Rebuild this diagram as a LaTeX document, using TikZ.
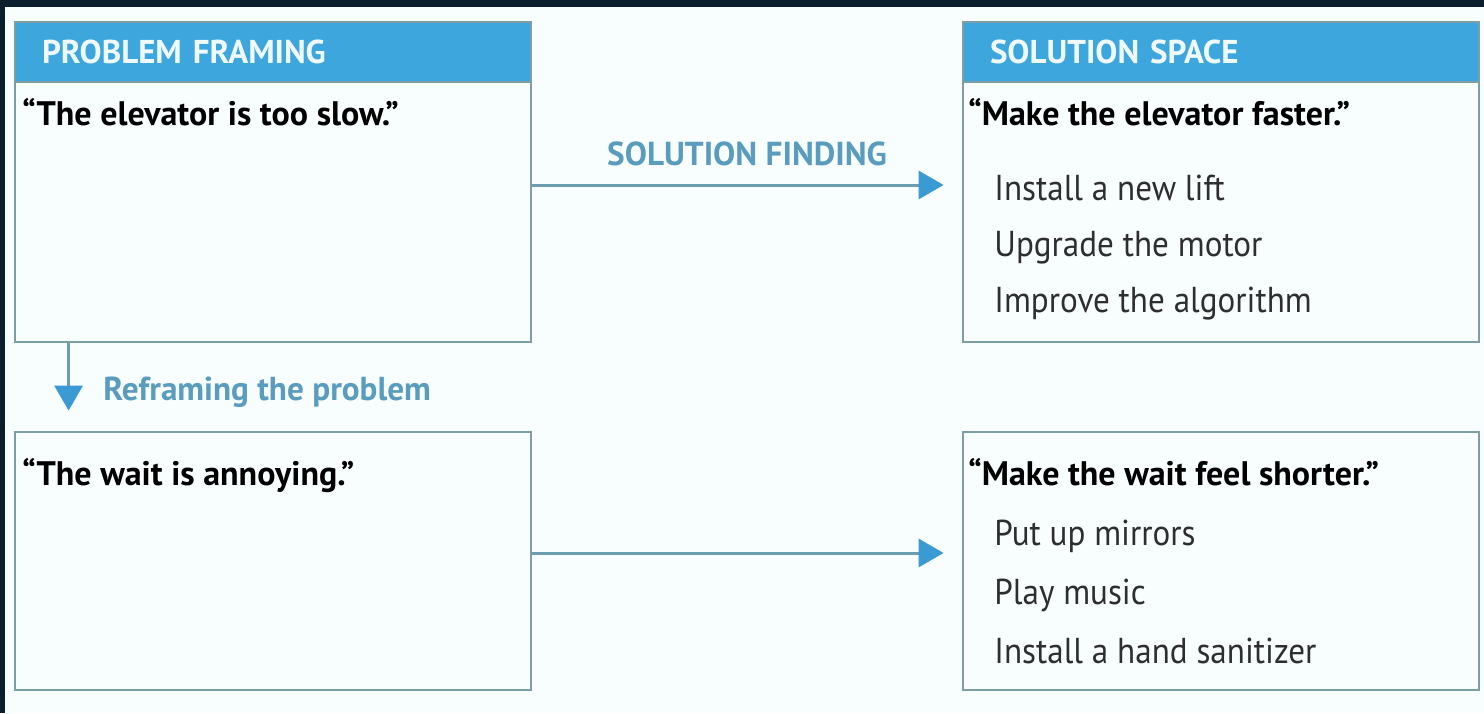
\documentclass[tikz,border=0pt]{standalone}
\usepackage{fontspec}
\setmainfont{PT Sans}
\newfontfamily\itemfont{PT Sans}[FakeStretch=0.92]
\usetikzlibrary{arrows.meta}

\definecolor{framedark}{HTML}{0B1E2E}
\definecolor{paper}{HTML}{F8FDFE}
\definecolor{boxgray}{HTML}{7E9EA6}
\definecolor{headblue}{HTML}{3DA6DD}
\definecolor{headtext}{HTML}{EEFAFF}
\definecolor{linegray}{HTML}{6D9DB0}
\definecolor{tipblue}{HTML}{3A9AD4}
\definecolor{labelblue}{HTML}{5A9CBD}
\definecolor{itemgray}{HTML}{2E2E2E}

\begin{document}
\begin{tikzpicture}[x=0.5pt, y=-0.5pt]
		\fill[framedark] (0,0) rectangle (1484,713);
		\fill[paper] (5,7) rectangle (1484,713);
		\useasboundingbox (0,0) rectangle (1484,713);

		\begin{scope}[every node/.style={draw=boxgray, line width=1.4pt, minimum width=258pt, inner sep=0pt}]
			\node (PF)[minimum height=160pt] at (273,182) {};
			\node (SS)[minimum height=160pt] at (1221,182) {};
			\node (WA)[minimum height=129pt] at (273,561) {};
			\node (WS)[minimum height=129pt] at (1221,561) {};
		\end{scope}
		\begin{scope}[every node/.style={draw=boxgray, fill=headblue, line width=1.4pt, anchor=north west,
				minimum width=258pt, minimum height=30pt, text width=231pt, inner xsep=13.5pt, inner ysep=0pt,
				align=left, text=headtext, font=\bfseries\fontsize{16.5}{19}\selectfont}]
			\node (PFhead) at (PF.north west) {PROBLEM FRAMING};
			\node (SShead) at (SS.north west) {SOLUTION SPACE};
		\end{scope}
		\begin{scope}[every node/.style={anchor=base west, inner sep=0pt, font=\bfseries\fontsize{17}{20}\selectfont}]
			\node (PFq) at (22,125) {“The elevator is too slow.”};
			\node (SSq) at (968,125) {“Make the elevator faster.”};
			\node (WAq) at (22,485) {“The wait is annoying.”};
			\node (WSq) at (968,485) {“Make the wait feel shorter.”};
		\end{scope}
		\begin{scope}[every node/.style={anchor=base west, inner sep=0pt, text=itemgray, font=\itemfont\fontsize{18}{21}\selectfont}]
			\node (S1) at (994,200) {Install a new lift};
			\node (S2) at (994,256) {Upgrade the motor};
			\node (S3) at (994,312) {Improve the algorithm};
			\node (W1) at (994,545) {Put up mirrors};
			\node (W2) at (994,604) {Play music};
			\node (W3) at (994,663) {Install a hand sanitizer};
		\end{scope}
		\begin{scope}[every node/.style={inner sep=0pt, text=labelblue, font=\bfseries\fontsize{16.6}{19}\selectfont}]
			\node (find) at (747,154) {SOLUTION FINDING};
			\node (reframe)[anchor=base west] at (103,400) {Reframing the problem};
		\end{scope}
		\begin{scope}[every edge/.style={draw=linegray, line width=1.5pt, -{Triangle[length=12.5pt, width=14pt, color=tipblue]}}]
			\path ([yshift=-1.5pt]PF.east) edge[shorten >=9pt] ([yshift=-1.5pt]SS.west);
			\path ([yshift=4pt]WA.east) edge[shorten >=9pt] ([yshift=4pt]WS.west);
			\path ([xshift=27.5pt]PF.south west) edge[shorten >=10pt] ([xshift=27.5pt]WA.north west);
		\end{scope}
	\end{tikzpicture}
\end{document}
